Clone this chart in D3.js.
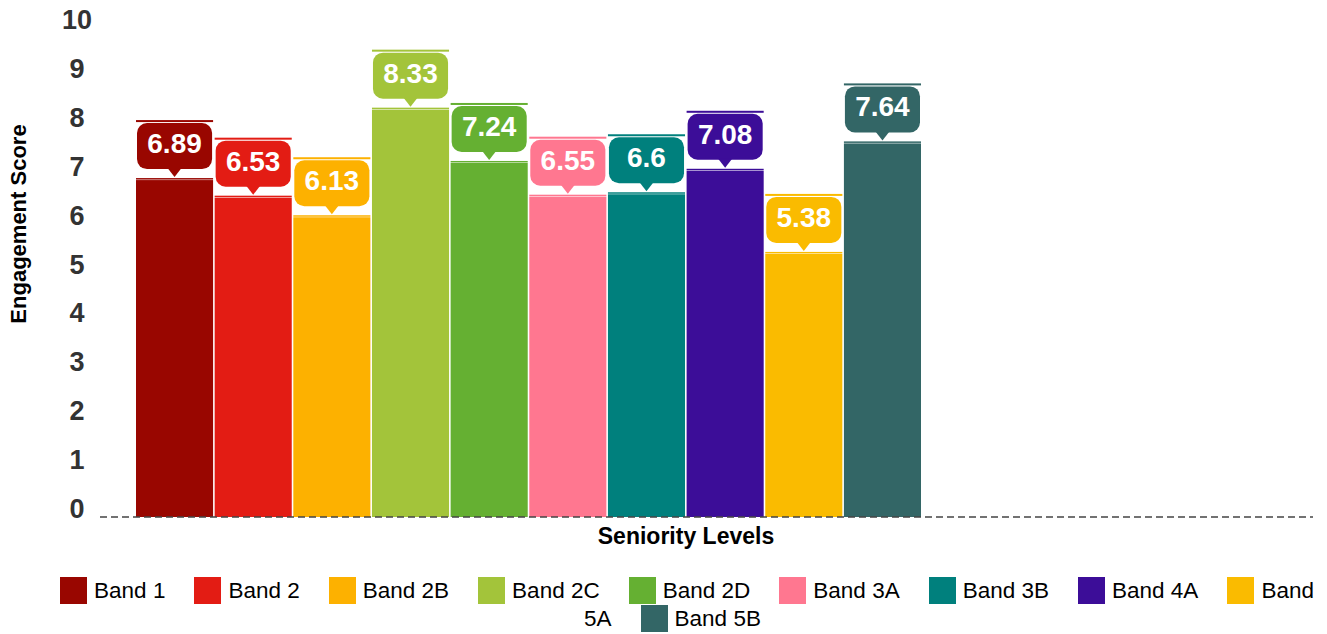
<!DOCTYPE html>
<html>
<head>
<meta charset="utf-8">
<script src="https://cdn.jsdelivr.net/npm/d3@7"></script>
<style>
  body { margin: 0; background: #fff; font-family: "Liberation Sans", Arial, sans-serif; }
  #legend { position: absolute; left: 52px; top: 577px; width: 1270px; text-align: center; font-size: 22.5px; line-height: 28px; color: #000; }
  #legend .item { margin-right: 29px; }
  #legend .sw { display: inline-block; width: 27px; height: 27px; vertical-align: -6px; margin-right: 7px; }
</style>
</head>
<body>
<svg id="chart" width="1327" height="634" style="position:absolute;left:0;top:0"></svg>
<div id="legend"></div>
<script>
var bands = ["Band 1", "Band 2", "Band 2B", "Band 2C", "Band 2D", "Band 3A", "Band 3B", "Band 4A", "Band 5A", "Band 5B"];
var scores = [6.89, 6.53, 6.13, 8.33, 7.24, 6.55, 6.6, 7.08, 5.38, 7.64];
var colors = ["#990600", "#e31c14", "#fdb100", "#a3c43a", "#65b032", "#ff7790", "#00807d", "#3c0d98", "#fabb00", "#336666"];
var yTicks = [0, 1, 2, 3, 4, 5, 6, 7, 8, 9, 10];

var svg = d3.select("svg#chart");
var baseY = 517;

var xScale = d3.scaleBand().domain(bands).range([136, 921]).paddingInner(0.02);
var yScale = d3.scaleLinear().domain([0, 10]).range([baseY, baseY - 489]);

// y tick labels
svg.append("g").selectAll("text")
  .data(yTicks)
  .enter().append("text")
  .attr("x", 77)
  .attr("y", d => yScale(d) + 1)
  .attr("text-anchor", "middle")
  .style("font-size", "27px")
  .style("font-weight", "bold")
  .style("fill", "#333")
  .text(d => d);

// bars
svg.append("g").selectAll("rect")
  .data(scores)
  .enter().append("rect")
  .attr("x", (d, i) => xScale(bands[i]))
  .attr("y", d => yScale(d))
  .attr("width", xScale.bandwidth())
  .attr("height", d => baseY - yScale(d))
  .style("fill", (d, i) => colors[i]);

// baseline
svg.append("line")
  .attr("x1", 100).attr("x2", 1313)
  .attr("y1", baseY).attr("y2", baseY)
  .style("stroke", "#444")
  .style("stroke-width", 1.5)
  .style("stroke-dasharray", "7,4");

// callout labels
var labels = svg.append("g").selectAll("g")
  .data(scores)
  .enter().append("g")
  .attr("transform", (d, i) => "translate(" + xScale(bands[i]) + "," + yScale(d) + ")");

var bw = xScale.bandwidth();
labels.append("rect")
  .attr("x", 0).attr("y", -59)
  .attr("width", bw).attr("height", 58)
  .style("fill", "#fff");
labels.append("rect")
  .attr("x", 0).attr("y", -60)
  .attr("width", bw).attr("height", 2)
  .style("fill", (d, i) => colors[i]);
labels.append("rect")
  .attr("x", 0).attr("y", -2)
  .attr("width", bw).attr("height", 1.5)
  .style("fill", (d, i) => colors[i]);
labels.append("rect")
  .attr("x", 1).attr("y", -57)
  .attr("width", bw - 2).attr("height", 46)
  .attr("rx", 10).attr("ry", 10)
  .style("fill", (d, i) => colors[i]);
labels.append("path")
  .attr("d", "M" + (bw / 2 - 7) + ",-12 L" + (bw / 2) + ",-3 L" + (bw / 2 + 7) + ",-12 Z")
  .style("fill", (d, i) => colors[i]);
labels.append("text")
  .attr("x", bw / 2)
  .attr("y", -27)
  .attr("text-anchor", "middle")
  .style("font-size", "28px")
  .style("font-weight", "bold")
  .style("fill", "#fff")
  .text(d => d);

// axis titles
svg.append("text")
  .attr("transform", "translate(26,224) rotate(-90)")
  .attr("text-anchor", "middle")
  .style("font-size", "22px")
  .style("font-weight", "bold")
  .text("Engagement Score");

svg.append("text")
  .attr("x", 686).attr("y", 544)
  .attr("text-anchor", "middle")
  .style("font-size", "23px")
  .style("font-weight", "bold")
  .text("Seniority Levels");

// legend (words in own spans so a wrapped label keeps tight boxes)
var items = d3.select("#legend").selectAll("span.item")
  .data(bands)
  .enter().append("span")
  .attr("class", "item");
items.append("span")
  .attr("class", "sw")
  .style("background", (d, i) => colors[i]);
items.each(function(d) {
  var item = d3.select(this);
  d.split(" ").forEach((w, j) => {
    if (j > 0) item.append("span").text(" ");
    item.append("span").text(w);
  });
});
</script>
</body>
</html>
